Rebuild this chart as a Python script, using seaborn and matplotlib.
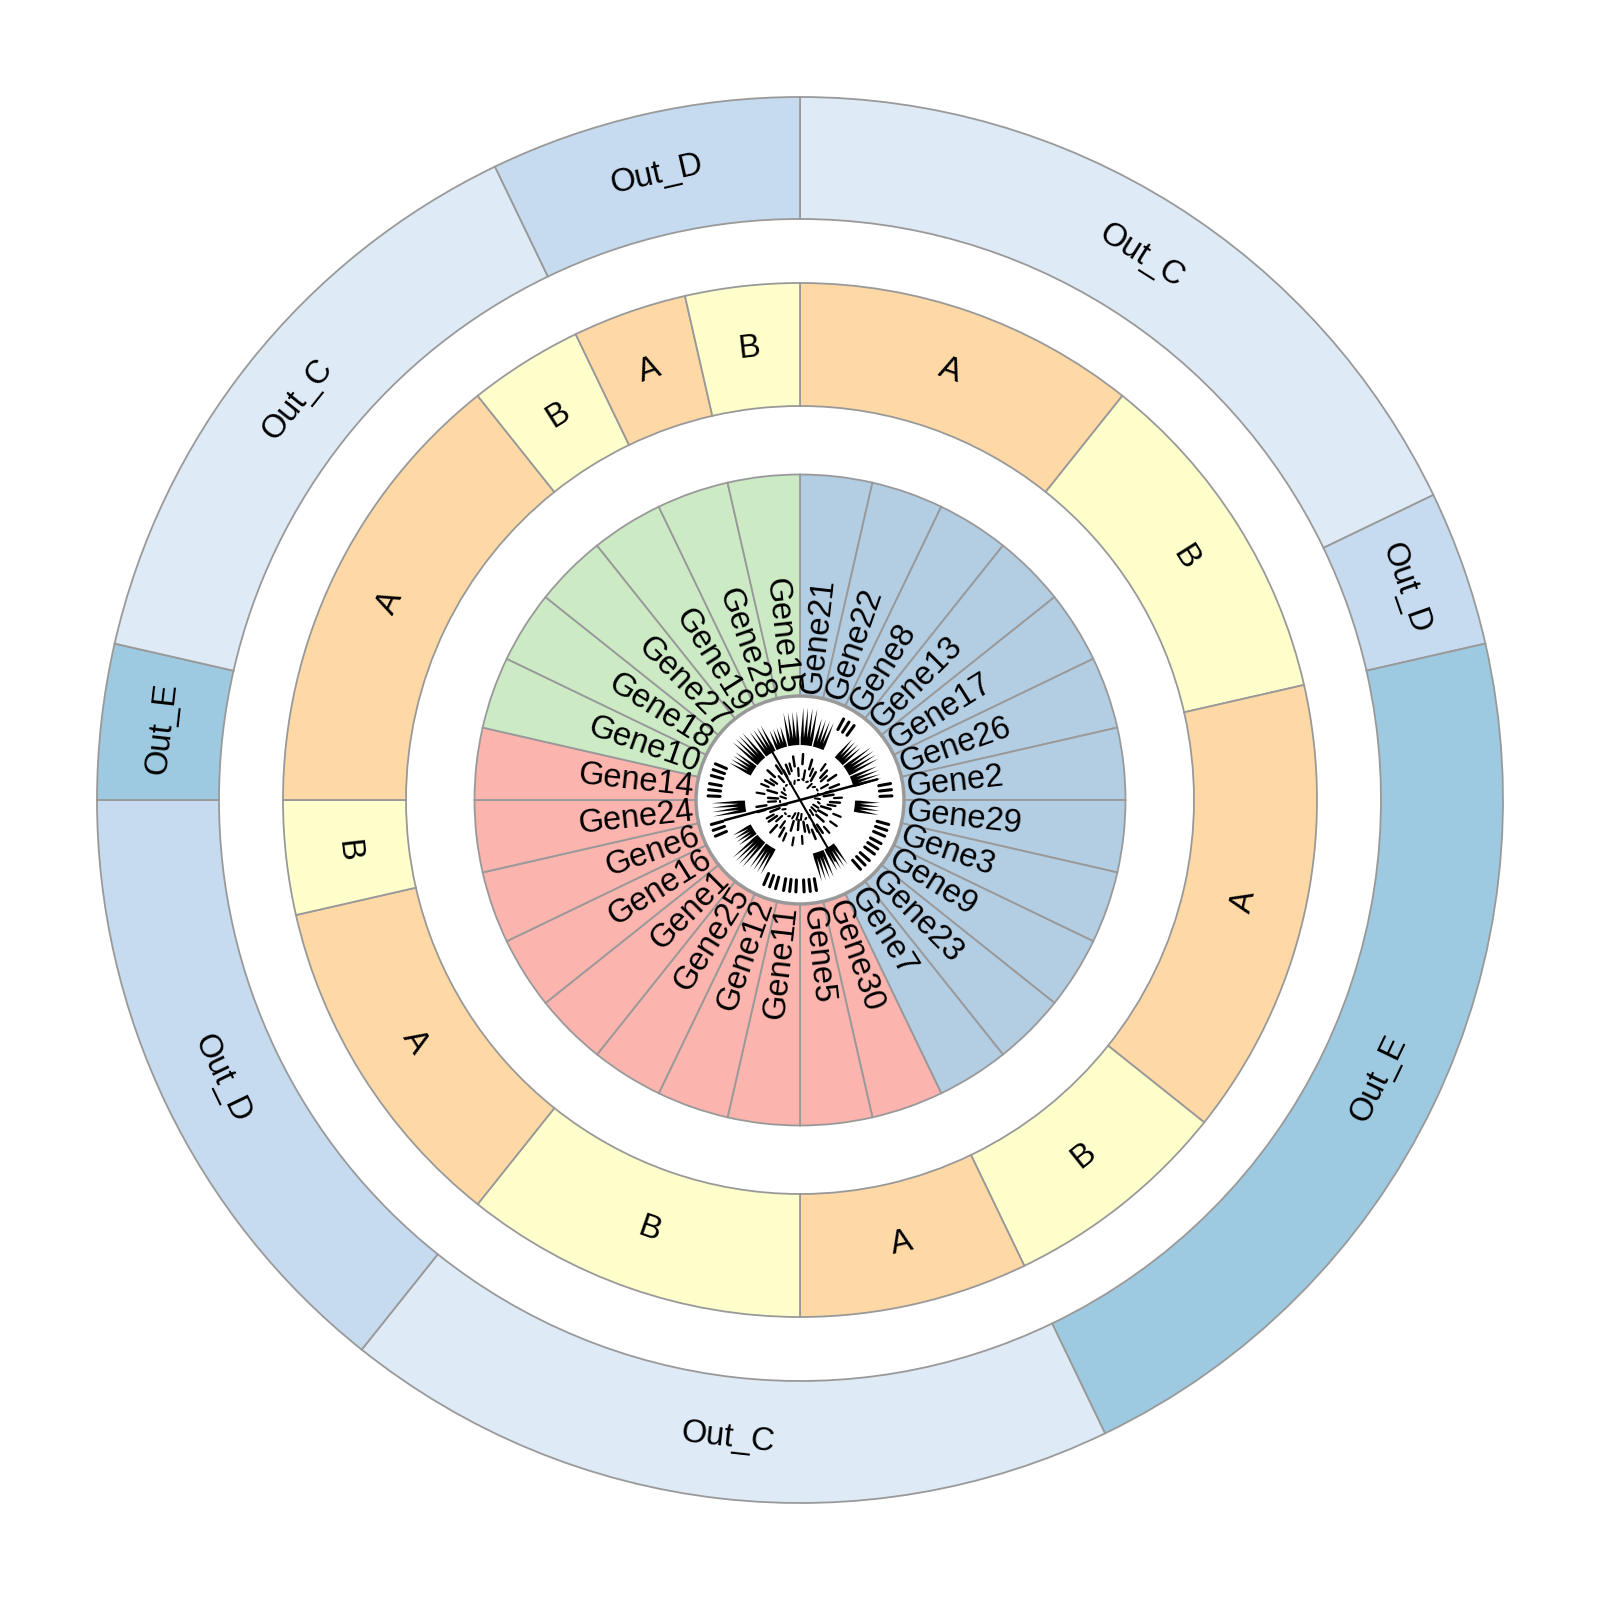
import itertools
import numpy as np
import matplotlib
matplotlib.use("Agg")
import matplotlib.pyplot as plt
import matplotlib.patches as patches
import seaborn as sns

# gene order, clockwise from 12 o'clock
genes = ["Gene21", "Gene22", "Gene8", "Gene13", "Gene17", "Gene26", "Gene2",
         "Gene29", "Gene3", "Gene9", "Gene23", "Gene7", "Gene30", "Gene5",
         "Gene11", "Gene12", "Gene25", "Gene1", "Gene16", "Gene6", "Gene24",
         "Gene14", "Gene10", "Gene18", "Gene27", "Gene19", "Gene28", "Gene15"]
gene_group = ["G1"] * 12 + ["G2"] * 10 + ["G3"] * 6
middle_cat = ["A", "A", "A", "B", "B", "B", "A", "A", "A", "A", "B", "B", "A", "A",
              "B", "B", "B", "A", "A", "A", "B", "A", "A", "A", "A", "B", "A", "B"]
outer_cat = ["Out_C"] * 5 + ["Out_D"] + ["Out_E"] * 6 + ["Out_C"] * 5 + \
            ["Out_D"] * 4 + ["Out_E"] + ["Out_C"] * 4 + ["Out_D"] * 2
# rough size of the black spikes in the centre, one per gene (0..1)
core_spike = [0.9, 0.7, 0.2, 0.6, 0.8, 0.7, 0.3, 0.6, 0.2, 0.15, 0.2, 0.6, 0.7, 0.2,
              0.1, 0.2, 0.7, 0.8, 0.5, 0.2, 0.8, 0.2, 0.3, 0.6, 0.8, 0.7, 0.5, 0.8]

sns.set_style("white")
plt.rcParams['font.family'] = ['Liberation Sans', 'DejaVu Sans']
plt.rcParams['text.color'] = 'black'

pastel = sns.color_palette("Pastel1").as_hex()
group_colors = {"G1": pastel[1], "G2": pastel[0], "G3": pastel[2]}
middle_colors = {"A": pastel[4], "B": pastel[5]}
outer_colors = {"Out_C": "#deebf7", "Out_D": "#c6dbef", "Out_E": "#9ecae1"}

EDGE = "#999999"
FS = 23.5


def runs(values):
    """collapse consecutive equal labels into (label, count)"""
    return [(k, len(list(g))) for k, g in itertools.groupby(values)]


def ring_labels(ax, wedges, labels, r):
    for w, lab in zip(wedges, labels):
        mid = (w.theta1 + w.theta2) / 2.0
        t = np.deg2rad(mid)
        rot = (mid - 90 + 180) % 360 - 180
        if rot < -90:
            rot += 180
        elif rot > 90:
            rot -= 180
        ax.text(r * np.cos(t), r * np.sin(t), lab, rotation=rot, color="black",
                rotation_mode="anchor", ha="center", va="center", fontsize=FS)


fig = plt.figure(figsize=(16, 16), dpi=100)
ax = fig.add_axes([0, 0, 1, 1])

wp = dict(edgecolor=EDGE, linewidth=1.3)

# outer ring
o_runs = runs(outer_cat)
o_wedges, _ = ax.pie([n for _, n in o_runs], radius=703, startangle=90, counterclock=False,
                     colors=[outer_colors[k] for k, _ in o_runs],
                     wedgeprops=dict(width=122, **wp))
ring_labels(ax, o_wedges, [k for k, _ in o_runs], 642)

# middle ring
m_runs = runs(middle_cat)
m_wedges, _ = ax.pie([n for _, n in m_runs], radius=517, startangle=90, counterclock=False,
                     colors=[middle_colors[k] for k, _ in m_runs],
                     wedgeprops=dict(width=123, **wp))
ring_labels(ax, m_wedges, [k for k, _ in m_runs], 455)

# gene ring
g_wedges, _ = ax.pie([1] * len(genes), radius=325.5, startangle=90, counterclock=False,
                     colors=[group_colors[g] for g in gene_group],
                     wedgeprops=dict(width=222, **wp))

ax.add_patch(patches.Circle((0, 0), 104, facecolor="white", edgecolor=EDGE,
                            linewidth=2.5, zorder=3))

for w, name in zip(g_wedges, genes):
    mid = (w.theta1 + w.theta2) / 2.0
    mid = (mid + 180) % 360 - 180
    t = np.deg2rad(mid)
    x, y = 107 * np.cos(t), 107 * np.sin(t)
    if -90 <= mid <= 90:
        ax.text(x, y, name, rotation=mid, rotation_mode="anchor", color="black",
                ha="left", va="center", fontsize=FS, zorder=4)
    else:
        ax.text(x, y, name, rotation=mid - 180, rotation_mode="anchor", color="black",
                ha="right", va="center", fontsize=FS, zorder=4)

ax.set_xlim(-800, 800)
ax.set_ylim(-800, 800)
ax.set_aspect("equal")
ax.axis("off")

# black core in the middle
core = fig.add_axes([0.435, 0.435, 0.13, 0.13], projection="polar")
core.set_theta_zero_location("N")
core.set_theta_direction(-1)
core.set_facecolor("none")
step = 2 * np.pi / len(genes)
for i, h in enumerate(core_spike):
    if h >= 0.4:
        th = np.linspace((i + 0.05) * step, (i + 0.95) * step, 9)
        rr = [55 + (42 * h if k % 2 else 8 * h) for k in range(9)]
        core.fill(np.r_[th, th[::-1]], np.r_[rr, [55] * 9], color="black", lw=0)
    else:
        for f in (0.2, 0.5, 0.8):
            core.plot([(i + f) * step] * 2, [80, 92], color="black", lw=2.2)
    core.plot([(i + 0.3) * step] * 2, [18 + 20 * h, 28 + 20 * h], color="black", lw=1.8)
    core.plot([(i + 0.75) * step] * 2, [40 - 20 * h, 48 - 20 * h], color="black", lw=1.6)
    core.plot([(i + 0.5) * step, (i + 0.8) * step], [12 + 10 * h, 20], color="black", lw=1.5)
core.plot([np.deg2rad(255), np.deg2rad(255 + 180)], [78, 0], color="black", lw=1.8)
core.plot([np.deg2rad(75), np.deg2rad(75)], [0, 80], color="black", lw=1.8)
core.plot([np.deg2rad(330), np.deg2rad(150)], [60, 70], color="black", lw=1.5)
core.set_ylim(0, 104)
core.axis("off")

fig.savefig("out.png", dpi=100)
